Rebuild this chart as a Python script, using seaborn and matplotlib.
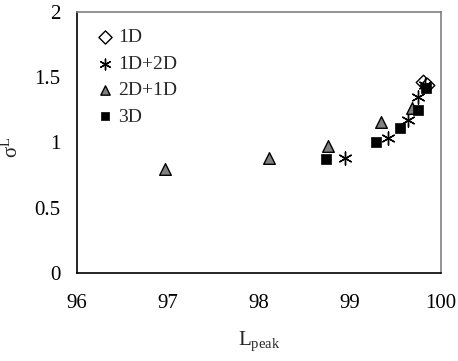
import matplotlib
matplotlib.use("Agg")
import matplotlib.pyplot as plt
import seaborn as sns

sns.set_theme(style="white")
plt.rcParams['font.family'] = ['Liberation Serif', 'DejaVu Serif']
plt.rcParams['mathtext.fontset'] = 'custom'
plt.rcParams['mathtext.rm'] = 'Liberation Serif'
plt.rcParams['mathtext.it'] = 'Liberation Serif'

# Data
x_1d = [99.80, 99.85]
y_1d = [1.46, 1.44]
x_1d2d = [98.95, 99.42, 99.64, 99.75, 99.82]
y_1d2d = [0.88, 1.03, 1.17, 1.35, 1.44]
x_2d1d = [96.97, 98.11, 98.76, 99.34, 99.68]
y_2d1d = [0.80, 0.88, 0.97, 1.16, 1.26]
x_3d = [98.74, 99.29, 99.55, 99.75, 99.84]
y_3d = [0.87, 1.00, 1.11, 1.25, 1.42]
x_ticks = [96, 97, 98, 99, 100]
y_ticks = [0, 0.5, 1, 1.5, 2]
y_tick_labels = ['0', '0.5', '1', '1.5', '2']

fig = plt.figure(figsize=(4.58, 3.61), dpi=100)
ax = fig.add_axes([0.168, 0.244, 0.795, 0.723])

sns.scatterplot(x=x_1d, y=y_1d, ax=ax, marker='D', s=55, facecolor='white',
                edgecolor='black', linewidth=1.0, label='1D')
sns.scatterplot(x=x_1d2d, y=y_1d2d, ax=ax, marker=(6, 2, 0), s=90, color='black',
                linewidth=1.0, label='1D+2D')
sns.scatterplot(x=x_2d1d, y=y_2d1d, ax=ax, marker='^', s=70, facecolor='#808080',
                edgecolor='black', linewidth=1.0, label='2D+1D')
sns.scatterplot(x=x_3d, y=y_3d, ax=ax, marker='s', s=60, facecolor='black',
                edgecolor='black', linewidth=0.5, label='3D')

ax.set_xlim(96, 100)
ax.set_ylim(0, 2)
ax.set_xticks(x_ticks)
ax.set_xticklabels([str(t) for t in x_ticks])
ax.set_yticks(y_ticks)
ax.set_yticklabels(y_tick_labels)
ax.tick_params(axis='both', direction='in', length=6, width=1, colors='black',
               labelsize=15)
ax.tick_params(axis='y', pad=12)
ax.tick_params(axis='x', pad=15)

for side in ['left', 'bottom']:
    ax.spines[side].set_color('black')
    ax.spines[side].set_linewidth(1.2)
for side in ['top', 'right']:
    ax.spines[side].set_color('#808080')
    ax.spines[side].set_linewidth(1.2)

ax.set_xlabel('L$_{\\mathregular{peak}}$', fontsize=15, labelpad=12)
ax.set_ylabel('σ$^{\\mathregular{L}}$', fontsize=15)
ax.yaxis.set_label_coords(-0.15, 0.48)

leg = ax.legend(loc='upper left', bbox_to_anchor=(0.03, 0.965), frameon=False,
                fontsize=14, handletextpad=0.15, labelspacing=0.45,
                handlelength=1.0, borderaxespad=0.0)
for h, s in zip(leg.legend_handles, [45, 60, 45, 40]):
    h.set_sizes([s])

fig.savefig('out.png', dpi=100)
